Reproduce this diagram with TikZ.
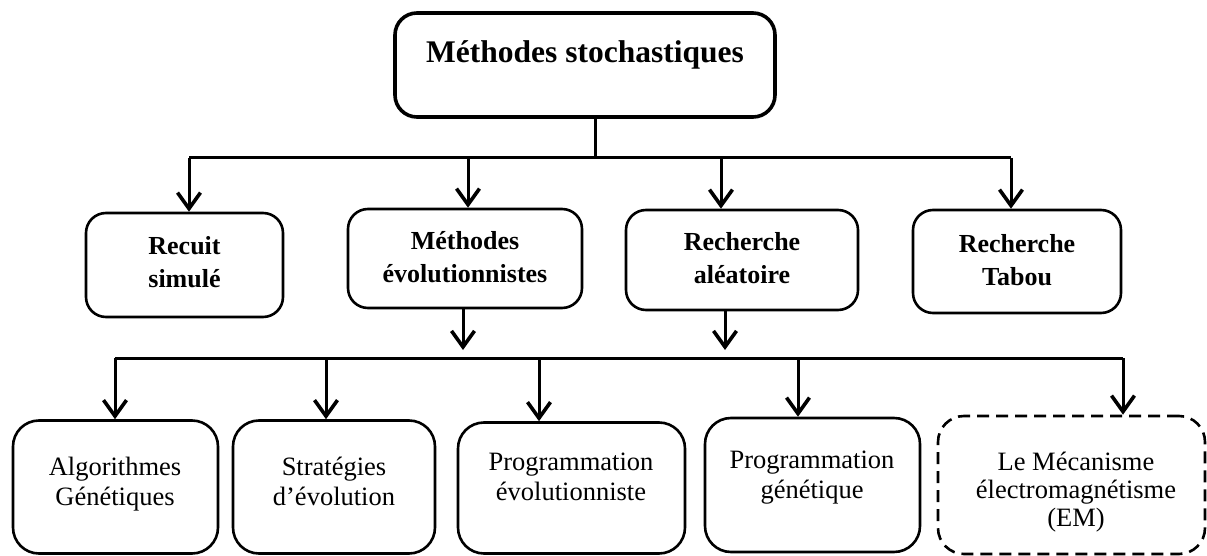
\documentclass[tikz,border=0pt]{standalone}
\usepackage{fontspec}
\setmainfont{Liberation Serif}
\usetikzlibrary{arrows.meta}

\begin{document}
\begin{tikzpicture}[x=1pt,y=-1pt,
  box/.style={draw, line width=2.6pt, rounded corners=20pt, inner sep=0pt},
  topbox/.style={box, line width=3.6pt, rounded corners=22pt},
  dashbox/.style={box, dash pattern=on 12pt off 7pt, rounded corners=26pt},
  line/.style={line width=3pt},
  arr/.style={line width=3pt, -{Straight Barb[length=16pt,width=23pt,line width=3.6pt]}},
  toptext/.style={font=\fontsize{31.5}{36}\selectfont\bfseries},
  midtext/.style={align=center, font=\fontsize{26}{33}\selectfont\bfseries},
  lowtext/.style={align=center, font=\fontsize{26.5}{30}\selectfont}
]
\useasboundingbox (0,0) rectangle (1207,556);

% root
\node[topbox, minimum width=380pt, minimum height=104pt] (root) at (585,65) {};
\node[toptext, anchor=base] (root-t) at (585,63) {Méthodes stochastiques};

% second level
\node[box, minimum width=197pt, minimum height=104pt] (rs) at (184.5,265) {};
\node[midtext] (rs-t) at (184.5,262) {Recuit\\simulé};
\node[box, minimum width=234pt, minimum height=99pt] (me) at (465,258.5) {};
\node[midtext] (me-t) at (465,257) {Méthodes\\évolutionnistes};
\node[box, minimum width=232pt, minimum height=100pt] (ra) at (742,260) {};
\node[midtext] (ra-t) at (742,258) {Recherche\\aléatoire};
\node[box, minimum width=208pt, minimum height=103pt] (rt) at (1017,261.5) {};
\node[midtext] (rt-t) at (1017,260) {Recherche\\Tabou};

% third level
\node[box, minimum width=205pt, minimum height=133pt, rounded corners=26pt] (ag) at (115.5,487) {};
\node[lowtext] (ag-t) at (115,484) {Algorithmes\\Génétiques};
\node[box, minimum width=202pt, minimum height=133pt, rounded corners=26pt] (se) at (334,487) {};
\node[lowtext] (se-t) at (334,481) {Stratégies\\d’évolution};
\node[box, minimum width=227pt, minimum height=131pt, rounded corners=26pt] (pe) at (571.5,488) {};
\node[lowtext] (pe-t) at (571,477) {Programmation\\évolutionniste};
\node[box, minimum width=215pt, minimum height=134pt, rounded corners=26pt] (pg) at (812.5,485) {};
\node[lowtext] (pg-t) at (812,478) {Programmation\\génétique};
\node[dashbox, minimum width=267pt, minimum height=138pt] (em) at (1071.5,485) {};
\node[lowtext, font=\fontsize{26.5}{28}\selectfont] (em-t) at (1076,492) {Le Mécanisme\\électromagnétisme\\(EM)};

% upper distribution bus
\coordinate (b1) at (595,158);
\coordinate (b1l) at (189,158);
\coordinate (b1r) at (1011,158);
\coordinate (b1m) at (468,158);
\coordinate (b1n) at (721,158);
\draw[line] (root.south -| b1) -- (b1);
\draw[line] (b1l) -- (b1r);
\draw[arr] (b1l) -- (rs.north -| b1l);
\draw[arr] (b1m) -- (me.north -| b1m);
\draw[arr] (b1n) -- (ra.north -| b1n);
\draw[arr] (b1r) -- (rt.north -| b1r);

% feeds into the lower bus
\coordinate (j1) at (463,350);
\coordinate (j2) at (725,350);
\draw[arr] (me.south -| j1) -- (j1);
\draw[arr] (ra.south -| j2) -- (j2);

% lower distribution bus
\coordinate (b2l) at (115,358);
\coordinate (b2a) at (326,358);
\coordinate (b2b) at (539,358);
\coordinate (b2c) at (798,358);
\coordinate (b2r) at (1123,358);
\draw[line] (b2l) -- (b2r);
\draw[arr] (b2l) -- (ag.north -| b2l);
\draw[arr] (b2a) -- (se.north -| b2a);
\draw[arr] (b2b) -- (pe.north -| b2b);
\draw[arr] (b2c) -- (pg.north -| b2c);
\draw[arr] (b2r) -- (em.north -| b2r);
\end{tikzpicture}
\end{document}
